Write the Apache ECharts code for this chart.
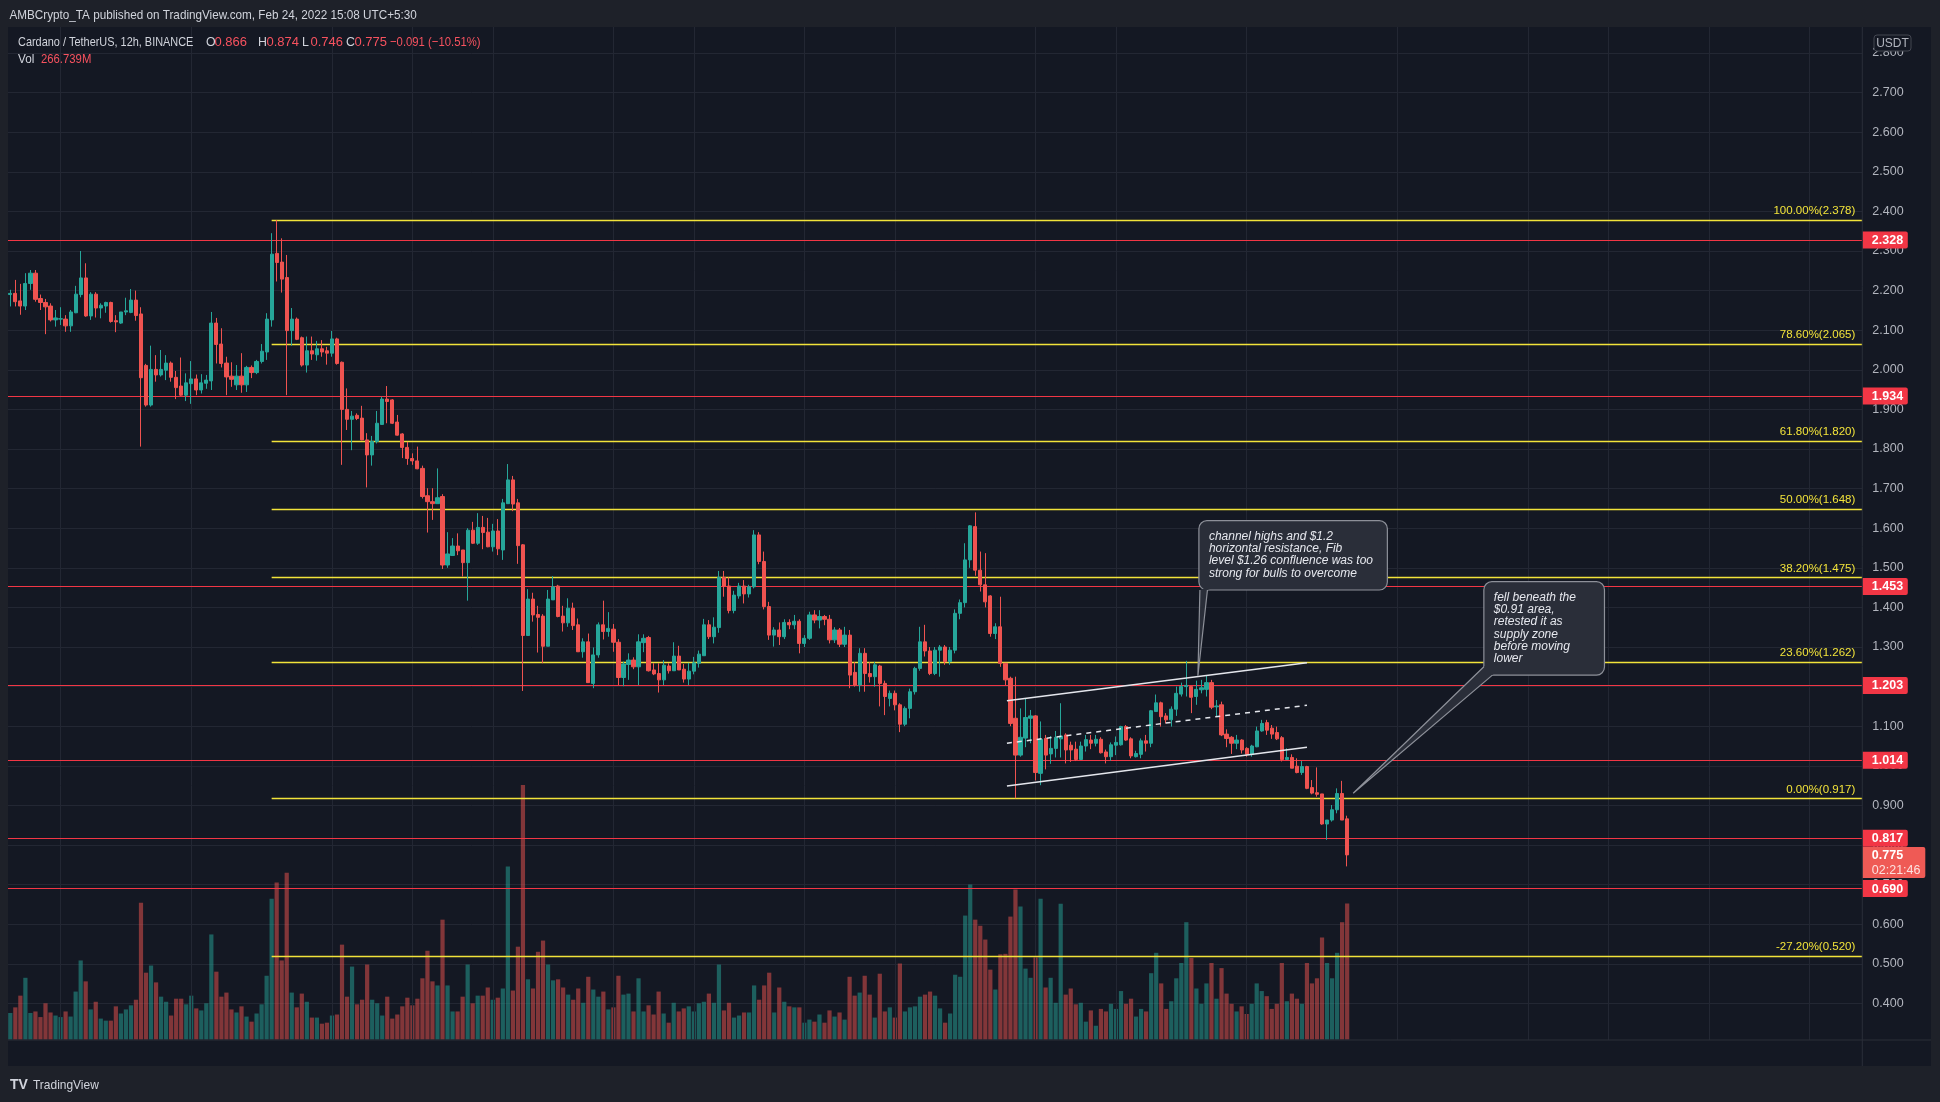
<!DOCTYPE html>
<html>
<head>
<meta charset="utf-8">
<title>Cardano / TetherUS 12h</title>
<script src="https://cdn.jsdelivr.net/npm/echarts@6/dist/echarts.min.js"></script>
<style>
html,body{margin:0;padding:0;background:#1e2129;overflow:hidden;}
#chart{width:1940px;height:1102px;}
</style>
</head>
<body>
<div id="chart"></div>
<script>
// ---------------- DATA ----------------
const startUTC = Date.UTC(2021, 9, 14, 0, 0);   // first 12h candle: 14 Oct 2021
const slotCount = 369;                          // 12h slots shown on the time scale (to mid April)
const categories = [];
for (let k = 0; k < slotCount; k++) {
  const d = new Date(startUTC + k * 43200000);
  categories.push(d.toISOString().slice(0, 16).replace('T', ' '));
}

const tickDates  = ['2021-10-19','2021-11-01','2021-11-15','2021-11-23','2021-12-01','2021-12-13','2021-12-21','2022-01-01','2022-01-10','2022-01-24','2022-02-01','2022-02-14','2022-03-01','2022-03-14','2022-03-22','2022-04-01','2022-04-11'];
const tickLabels = ['19','Nov','15','23','Dec','13','21','2022','10','24','Feb','14','Mar','14','22','Apr','11'];

const opens = [
2.190,2.193,2.174,2.161,2.218,2.244,2.180,2.170,2.161,2.126,
2.128,2.128,2.111,2.144,2.190,2.232,2.136,2.191,2.156,2.161,
2.170,2.124,2.118,2.146,2.145,2.176,2.141,2.011,1.911,2.001,
1.987,1.999,2.017,1.981,1.959,1.936,1.965,1.977,1.949,1.966,
1.972,2.118,2.065,2.017,1.984,1.962,1.984,1.962,2.006,1.993,
2.021,2.045,2.126,2.294,2.272,2.233,2.099,2.128,2.081,2.012,
2.048,2.038,2.053,2.048,2.042,2.078,2.019,1.900,1.875,1.885,
1.878,1.823,1.785,1.819,1.862,1.926,1.924,1.868,1.838,1.804,
1.776,1.770,1.751,1.682,1.667,1.662,1.680,1.507,1.531,1.555,
1.545,1.513,1.595,1.562,1.602,1.590,1.553,1.593,1.545,1.662,
1.722,1.664,1.558,1.329,1.421,1.382,1.378,1.302,1.419,1.454,
1.378,1.361,1.398,1.356,1.288,1.313,1.208,1.280,1.356,1.339,
1.345,1.312,1.223,1.256,1.267,1.250,1.311,1.324,1.242,1.233,
1.217,1.252,1.240,1.277,1.244,1.219,1.239,1.259,1.278,1.356,
1.326,1.349,1.476,1.454,1.392,1.429,1.454,1.434,1.452,1.583,
1.516,1.402,1.330,1.343,1.326,1.362,1.356,1.365,1.309,1.322,
1.381,1.368,1.377,1.370,1.318,1.343,1.307,1.330,1.236,1.204,
1.284,1.233,1.225,1.252,1.208,1.170,1.183,1.154,1.105,1.145,
1.187,1.246,1.313,1.290,1.233,1.292,1.300,1.263,1.292,1.385,
1.412,1.520,1.604,1.494,1.457,1.429,1.334,1.351,1.259,1.221,
1.120,1.027,1.070,1.120,1.126,0.981,1.069,1.030,1.044,1.068,
1.078,1.052,1.042,1.016,1.050,1.065,1.057,1.067,1.035,1.023,
1.052,1.053,1.099,1.068,1.023,1.029,1.063,1.057,1.137,1.159,
1.126,1.116,1.143,1.181,1.200,1.200,1.175,1.192,1.193,1.210,
1.149,1.154,1.080,1.072,1.057,1.065,1.044,1.029,1.048,1.088,
1.109,1.095,1.084,1.071,1.016,1.021,0.999,0.983,0.998,0.945,
0.932,0.929,0.853,0.863,0.889,0.930,0.866];

const highs = [
2.202,2.227,2.217,2.244,2.252,2.252,2.190,2.179,2.168,2.151,
2.158,2.138,2.151,2.212,2.300,2.269,2.196,2.196,2.168,2.172,
2.172,2.138,2.146,2.182,2.204,2.200,2.158,2.015,2.061,2.037,
2.050,2.037,2.021,1.997,2.031,1.991,2.022,1.988,1.989,1.987,
2.146,2.131,2.105,2.033,2.019,2.012,2.042,2.010,2.011,2.025,
2.065,2.143,2.345,2.378,2.332,2.290,2.156,2.132,2.084,2.084,
2.084,2.073,2.075,2.058,2.098,2.081,2.021,1.953,1.896,1.890,
1.909,1.840,1.833,1.896,1.932,1.959,1.926,1.886,1.840,1.818,
1.789,1.806,1.758,1.701,1.701,1.751,1.686,1.590,1.575,1.587,
1.545,1.600,1.616,1.638,1.631,1.626,1.611,1.623,1.674,1.762,
1.732,1.674,1.560,1.446,1.437,1.404,1.383,1.444,1.479,1.457,
1.404,1.423,1.412,1.372,1.322,1.334,1.299,1.362,1.417,1.388,
1.358,1.320,1.263,1.284,1.274,1.332,1.332,1.328,1.259,1.259,
1.267,1.259,1.312,1.303,1.257,1.260,1.275,1.291,1.371,1.368,
1.375,1.492,1.492,1.476,1.442,1.462,1.469,1.457,1.595,1.590,
1.541,1.414,1.350,1.362,1.370,1.370,1.381,1.370,1.330,1.389,
1.393,1.393,1.381,1.381,1.350,1.348,1.351,1.343,1.262,1.297,
1.297,1.262,1.262,1.255,1.215,1.190,1.190,1.158,1.150,1.195,
1.250,1.351,1.356,1.300,1.300,1.305,1.305,1.300,1.395,1.420,
1.562,1.608,1.640,1.541,1.537,1.431,1.360,1.427,1.259,1.225,
1.225,1.145,1.170,1.141,1.128,1.112,1.078,1.075,1.088,1.158,
1.082,1.061,1.061,1.061,1.078,1.078,1.078,1.072,1.041,1.059,
1.074,1.101,1.103,1.072,1.038,1.069,1.078,1.141,1.180,1.162,
1.133,1.150,1.200,1.210,1.265,1.200,1.215,1.217,1.229,1.217,
1.166,1.162,1.092,1.075,1.078,1.067,1.047,1.053,1.099,1.116,
1.116,1.103,1.099,1.075,1.044,1.029,1.019,1.012,1.000,0.964,
0.996,0.929,0.863,0.901,0.943,0.962,0.874];

const lows = [
2.160,2.160,2.139,2.151,2.202,2.172,2.151,2.090,2.122,2.109,
2.113,2.096,2.096,2.143,2.183,2.134,2.126,2.132,2.130,2.144,
2.119,2.095,2.116,2.138,2.143,2.124,1.806,1.907,1.907,1.970,
1.983,1.974,1.970,1.926,1.934,1.921,1.914,1.936,1.940,1.952,
1.949,2.016,2.006,1.936,1.957,1.949,1.942,1.944,1.979,1.989,
2.016,2.025,2.109,2.223,2.195,1.936,2.061,2.075,2.008,1.993,
2.025,2.023,2.033,2.013,2.033,2.013,1.760,1.848,1.797,1.873,
1.822,1.703,1.758,1.814,1.861,1.865,1.863,1.834,1.777,1.760,
1.760,1.749,1.675,1.589,1.621,1.662,1.497,1.500,1.531,1.532,
1.478,1.417,1.560,1.558,1.547,1.552,1.541,1.532,1.520,1.662,
1.643,1.510,1.189,1.329,1.364,1.286,1.259,1.302,1.419,1.375,
1.339,1.351,1.343,1.288,1.273,1.210,1.196,1.273,1.319,1.326,
1.288,1.204,1.201,1.217,1.244,1.204,1.287,1.238,1.229,1.185,
1.204,1.233,1.240,1.242,1.210,1.204,1.231,1.248,1.278,1.320,
1.309,1.336,1.427,1.385,1.385,1.422,1.410,1.425,1.448,1.509,
1.395,1.318,1.301,1.305,1.320,1.345,1.345,1.284,1.300,1.318,
1.360,1.347,1.355,1.309,1.310,1.300,1.300,1.196,1.200,1.187,
1.187,1.210,1.200,1.150,1.128,1.150,1.140,1.085,1.100,1.120,
1.180,1.240,1.276,1.229,1.229,1.225,1.255,1.255,1.284,1.370,
1.400,1.500,1.480,1.440,1.400,1.326,1.320,1.250,1.204,1.100,
0.918,1.023,1.047,1.057,0.963,0.951,0.991,1.005,1.021,1.021,
1.006,1.010,1.012,1.015,1.036,1.042,1.049,1.031,1.006,1.013,
1.027,1.051,1.063,1.019,1.021,1.019,1.036,1.047,1.137,1.099,
1.107,1.099,1.126,1.175,1.175,1.133,1.154,1.183,1.175,1.143,
1.126,1.075,1.047,1.030,1.042,1.031,1.023,1.023,1.047,1.086,
1.078,1.068,1.065,1.011,1.015,0.994,0.981,0.977,0.941,0.928,
0.922,0.851,0.813,0.859,0.880,0.863,0.746];

const closes = [
2.193,2.172,2.161,2.218,2.244,2.178,2.170,2.159,2.126,2.131,
2.129,2.111,2.146,2.191,2.232,2.136,2.191,2.156,2.163,2.170,
2.122,2.121,2.146,2.149,2.176,2.137,1.980,1.911,2.001,1.987,
2.001,2.017,1.981,1.955,1.936,1.967,1.977,1.949,1.967,1.974,
2.118,2.064,2.016,1.982,1.976,1.984,1.962,2.006,1.993,2.021,
2.047,2.128,2.292,2.271,2.229,2.099,2.128,2.077,2.012,2.048,
2.040,2.053,2.045,2.042,2.078,2.016,1.900,1.875,1.883,1.877,
1.823,1.785,1.819,1.865,1.926,1.920,1.865,1.835,1.804,1.776,
1.770,1.750,1.680,1.667,1.662,1.677,1.507,1.535,1.555,1.543,
1.513,1.595,1.562,1.602,1.589,1.553,1.593,1.548,1.664,1.722,
1.661,1.556,1.329,1.421,1.381,1.375,1.302,1.421,1.452,1.377,
1.361,1.398,1.354,1.288,1.313,1.210,1.280,1.356,1.339,1.347,
1.312,1.223,1.257,1.267,1.250,1.313,1.322,1.240,1.232,1.217,
1.254,1.240,1.277,1.242,1.219,1.239,1.260,1.282,1.356,1.326,
1.350,1.476,1.454,1.392,1.431,1.454,1.434,1.452,1.583,1.516,
1.402,1.330,1.343,1.326,1.362,1.356,1.365,1.309,1.322,1.381,
1.368,1.377,1.370,1.318,1.343,1.307,1.330,1.229,1.204,1.284,
1.233,1.225,1.255,1.208,1.175,1.183,1.154,1.105,1.145,1.187,
1.246,1.313,1.290,1.233,1.292,1.300,1.263,1.292,1.385,1.412,
1.520,1.606,1.494,1.457,1.414,1.334,1.351,1.259,1.217,1.107,
1.027,1.072,1.122,1.126,0.983,1.067,1.027,1.044,1.072,1.075,
1.040,1.040,1.016,1.050,1.066,1.057,1.067,1.033,1.023,1.053,
1.059,1.099,1.065,1.025,1.031,1.063,1.057,1.139,1.159,1.124,
1.116,1.143,1.183,1.200,1.203,1.173,1.193,1.197,1.210,1.148,
1.151,1.078,1.069,1.057,1.065,1.040,1.029,1.050,1.088,1.107,
1.090,1.080,1.068,1.016,1.021,0.994,0.983,0.998,0.943,0.931,
0.928,0.853,0.863,0.889,0.930,0.863,0.775];

// volume, millions
const volumes = [
52,63,86,121,52,55,44,71,53,47,
44,55,45,94,155,114,59,74,41,37,
37,65,51,59,67,78,268,131,145,112,
84,74,47,80,80,69,86,61,57,71,
206,133,84,92,59,53,65,45,35,51,
69,125,276,308,155,327,92,63,90,74,
43,43,31,33,47,49,186,84,143,69,
78,147,78,71,47,84,41,49,65,82,
67,80,120,174,114,106,235,106,55,55,
84,147,71,86,86,102,78,82,100,339,
96,182,499,118,100,172,194,147,116,118,
102,88,78,100,72,123,98,84,94,59,
63,125,88,90,55,120,55,67,49,94,
51,33,72,55,61,65,55,71,74,90,
72,147,57,72,43,47,53,53,106,78,
106,131,53,102,74,65,63,63,33,39,
35,49,33,57,45,53,39,123,86,92,
125,88,43,129,55,63,43,149,55,63,
65,84,88,94,86,61,33,51,127,123,
243,304,235,223,196,137,98,167,168,241,
294,261,139,121,161,276,102,121,72,266,
88,100,69,72,35,57,27,60,55,70,
60,95,70,80,45,60,55,130,170,110,
60,75,120,150,230,160,100,70,110,150,
80,140,90,70,55,65,50,70,110,95,
85,60,70,150,75,90,80,70,150,110,
120,200,150,120,170,230,266.739];

const redLevels  = [2.328, 1.934, 1.453, 1.203, 1.014, 0.817, 0.690];
const fibRatios  = ['100.00%','78.60%','61.80%','50.00%','38.20%','23.60%','0.00%','-27.20%'];
const fibPrices  = [2.378, 2.065, 1.820, 1.648, 1.475, 1.262, 0.917, 0.520];
const fibStartIndex = 52;
const channelUpper = [[198.3, 1.164], [258.0, 1.260]];
const channelMid   = [[198.3, 1.057], [258.0, 1.153]];
const channelLower = [[198.3, 0.949], [258.0, 1.047]];
const countdown = '02:21:46';

const note1 = {
  lines: ['channel highs and $1.2', 'horizontal resistance, Fib', 'level $1.26 confluence was too', 'strong for bulls to overcome'],
  box: [[236.5, 1.619], [274.0, 1.444]], tip: [236.3, 1.2275], baseA: [236.7, 1.444], baseB: [238.2, 1.444]
};
const note2 = {
  lines: ['fell beneath the', '$0.91 area,', 'retested it as', 'supply zone', 'before moving', 'lower'],
  box: [[293.2, 1.465], [317.2, 1.229]], tip: [267.2, 0.9306], baseA: [293.2, 1.250], baseB: [294.9, 1.229]
};

// ---------------- STYLE ----------------
const FONT = "'Liberation Sans', Arial, sans-serif";
const UP = '#26a69a', DOWN = '#ef5350', RED = '#f23645', YELLOW = '#f2e33a';
const GRIDC = '#232733', AXISTXT = '#b2b5be', PANE = '#141823', FRAME = '#1e2129';
const GRID_L = 7.8, GRID_W = 1854.5;

const tickIndex = tickDates.map(d => categories.indexOf(d + ' 00:00'));
const labelByIndex = {};
tickIndex.forEach((ix, k) => { labelByIndex[ix] = tickLabels[k]; });

const candles = opens.map((o, i) => [o, closes[i], lows[i], highs[i]]);
const last = closes.length - 1;

const levelLines = [];
redLevels.forEach(v => levelLines.push({ yAxis: v, lineStyle: { color: RED, width: 1.2, type: 'solid' }, label: { show: false } }));
fibPrices.forEach((v, k) => levelLines.push([
  { coord: [fibStartIndex, v], lineStyle: { color: YELLOW, width: 1.3, type: 'solid' },
    label: { show: true, position: 'insideEndTop', formatter: fibRatios[k] + '(' + v.toFixed(3) + ')',
             color: YELLOW, fontSize: 11.5, fontFamily: FONT, distance: [7, 3] } },
  { coord: [slotCount - 0.5, v] }
]));

function chanSeries(pts, dashed) {
  return { type: 'line', xAxisIndex: 1, yAxisIndex: 0, data: pts, symbol: 'none', silent: true, z: 7,
    lineStyle: { color: '#e4e6ec', width: 1.5, type: dashed ? [5, 5] : 'solid' } };
}

const option = {
  animation: false,
  backgroundColor: PANE,
  grid: [
    { left: GRID_L, width: GRID_W, top: 13.4, height: 1029.6, containLabel: false, outerBoundsMode: 'none' },
    { left: GRID_L, width: GRID_W, top: 733.5, height: 306, containLabel: false, outerBoundsMode: 'none' }
  ],
  xAxis: [
    { type: 'category', gridIndex: 0, data: categories, boundaryGap: true,
      axisLine: { show: false }, axisTick: { show: false }, splitLine: { show: false },
      axisLabel: { interval: (i) => labelByIndex[i] !== undefined, formatter: (v, i) => labelByIndex[i] || '',
                   color: AXISTXT, fontSize: 12.5, fontFamily: FONT, margin: 4, hideOverlap: false } },
    { type: 'value', gridIndex: 0, min: -0.5, max: slotCount - 0.5, show: false },
    { type: 'category', gridIndex: 1, data: categories, show: false }
  ],
  yAxis: [
    { type: 'value', gridIndex: 0, position: 'right', min: 0.3, max: 2.9, interval: 0.1,
      axisLine: { show: false }, axisTick: { show: false },
      axisLabel: { formatter: v => v.toFixed(3), color: AXISTXT, fontSize: 12.5, fontFamily: FONT, margin: 10,
                   showMinLabel: false, showMaxLabel: false, hideOverlap: false },
      splitLine: { show: true, showMinLine: false, showMaxLine: false, lineStyle: { color: GRIDC, width: 1 } } },
    { type: 'value', gridIndex: 1, min: 0, max: 600, show: false }
  ],
  series: [
    { type: 'line', name: 'vgrid', xAxisIndex: 1, yAxisIndex: 0, data: [], z: 1, silent: true,
      markLine: { silent: true, symbol: ['none', 'none'], label: { show: false },
                  lineStyle: { color: GRIDC, width: 1, type: 'solid' },
                  data: tickIndex.map(ix => ({ xAxis: ix })) } },
    { type: 'bar', name: 'Vol', xAxisIndex: 2, yAxisIndex: 1, data: volumes, barCategoryGap: '16%', z: 3, silent: true,
      itemStyle: { color: p => closes[p.dataIndex] >= opens[p.dataIndex] ? 'rgba(38,166,154,0.5)' : 'rgba(239,83,80,0.5)' } },
    { type: 'candlestick', name: 'ADAUSDT', xAxisIndex: 0, yAxisIndex: 0, data: candles, barWidth: 3.7, z: 5, silent: true,
      itemStyle: { color: UP, color0: DOWN, borderColor: UP, borderColor0: DOWN, borderWidth: 1 } },
    { type: 'line', name: 'levels', xAxisIndex: 1, yAxisIndex: 0, data: [], z: 6, silent: true,
      markLine: { silent: true, symbol: ['none', 'none'], precision: 3, data: levelLines } },
    chanSeries(channelUpper, false),
    chanSeries(channelMid, true),
    chanSeries(channelLower, false)
  ]
};

const chart = echarts.init(document.getElementById('chart'), null, { renderer: 'canvas', width: 1940, height: 1102 });
chart.setOption(option);

const X = i => chart.convertToPixel({ xAxisIndex: 1 }, i);
const Y = p => chart.convertToPixel({ yAxisIndex: 0 }, p);
const axisX = X(slotCount - 0.5);

// text helper; sx = horizontal squeeze to match the narrower TradingView UI font
function txt(x, y, text, color, size, sx, z) {
  return { type: 'text', x: x, y: y, z: z || 102, scaleX: sx || 1,
    style: { text: text, fill: color, font: size + 'px ' + FONT, align: 'left', verticalAlign: 'middle' } };
}

function callout(note) {
  const x0 = X(note.box[0][0]), y0 = Y(note.box[0][1]), x1 = X(note.box[1][0]), y1 = Y(note.box[1][1]);
  const tip = [X(note.tip[0]), Y(note.tip[1])];
  const a = [X(note.baseA[0]), Y(note.baseA[1])], b = [X(note.baseB[0]), Y(note.baseB[1])];
  const cx = (x0 + x1) / 2, cy = (y0 + y1) / 2;
  const inward = p => { const dx = cx - p[0], dy = cy - p[1], L = Math.hypot(dx, dy); return [p[0] + 4 * dx / L, p[1] + 4 * dy / L]; };
  return [
    { type: 'rect', z: 60, shape: { x: x0, y: y0, width: x1 - x0, height: y1 - y0, r: 8 },
      style: { fill: '#2a2e39', stroke: '#8d9099', lineWidth: 1.2 } },
    { type: 'polygon', z: 61, shape: { points: [inward(a), a, tip, b, inward(b)] }, style: { fill: '#2a2e39' } },
    { type: 'polyline', z: 62, shape: { points: [a, tip, b] }, style: { stroke: '#8d9099', lineWidth: 1.2, fill: null } },
    { type: 'text', z: 63, x: x0 + 10, y: y0 + 9.5,
      style: { text: note.lines.join('\n'), fill: '#e6e8ee', font: 'italic 12px ' + FONT, lineHeight: 12.3, align: 'left', verticalAlign: 'top' } }
  ];
}

const g = [];
// outer frame
g.push({ type: 'rect', z: 100, shape: { x: 0, y: 0, width: 1940, height: 27 }, style: { fill: FRAME } });
g.push({ type: 'rect', z: 100, shape: { x: 0, y: 1066, width: 1940, height: 36 }, style: { fill: FRAME } });
g.push({ type: 'rect', z: 100, shape: { x: 0, y: 0, width: 8, height: 1102 }, style: { fill: FRAME } });
g.push({ type: 'rect', z: 100, shape: { x: 1931, y: 0, width: 9, height: 1102 }, style: { fill: FRAME } });
// separators
g.push({ type: 'line', z: 101, shape: { x1: axisX, y1: 27, x2: axisX, y2: 1066 }, style: { stroke: '#2a2e39', lineWidth: 1 } });
g.push({ type: 'rect', z: 99, shape: { x: 8, y: 1040, width: 1923, height: 26 }, style: { fill: PANE } });
g.push({ type: 'line', z: 101, shape: { x1: 8, y1: 1040, x2: 1931, y2: 1040 }, style: { stroke: '#2a2e39', lineWidth: 1 } });
// header
g.push(txt(9.5, 15, 'AMBCrypto_TA published on TradingView.com, Feb 24, 2022 15:08 UTC+5:30', '#d1d4dc', 13, 0.9));
// legend
const fmt = v => v.toFixed(3);
const chg = closes[last] - opens[last];
const pct = chg / opens[last] * 100;
const LEGY = 42.7;
g.push(txt(18, LEGY, 'Cardano / TetherUS, 12h, BINANCE', '#d1d4dc', 13, 0.84, 50));
[['O', opens[last], 206], ['H', highs[last], 258], ['L', lows[last], 302], ['C', closes[last], 346]].forEach(r => {
  g.push(txt(r[2], LEGY, r[0], '#d1d4dc', 13, 0.95, 50));
  g.push(txt(r[2] + 8.5, LEGY, fmt(r[1]), '#f7525f', 13, 1, 50));
});
g.push(txt(390, LEGY, '\u2212' + Math.abs(chg).toFixed(3) + ' (\u2212' + Math.abs(pct).toFixed(2) + '%)', '#f7525f', 13, 0.87, 50));
g.push(txt(18, 59.3, 'Vol', '#d1d4dc', 13, 0.9, 50));
g.push(txt(41, 59.3, volumes[last].toFixed(3) + 'M', '#f7525f', 13, 0.87, 50));
// USDT badge
g.push({ type: 'rect', z: 70, shape: { x: 1874, y: 35, width: 37, height: 16, r: 3 }, style: { fill: PANE, stroke: '#434651', lineWidth: 1 } });
g.push({ type: 'text', z: 71, x: 1892.5, y: 43.5, style: { text: 'USDT', fill: AXISTXT, font: '12px ' + FONT, align: 'center', verticalAlign: 'middle' } });
// red level badges
redLevels.forEach(v => {
  const y = Y(v);
  g.push({ type: 'rect', z: 70, shape: { x: axisX, y: y - 8.5, width: 45.5, height: 17, r: [0, 2, 2, 0] }, style: { fill: RED } });
  g.push({ type: 'text', z: 71, x: axisX + 9.5, y: y + 0.5, style: { text: v.toFixed(3), fill: '#ffffff', font: 'bold 12.5px ' + FONT, align: 'left', verticalAlign: 'middle' } });
});
// last price badge with countdown
{
  const y = Y(closes[last]);
  g.push({ type: 'rect', z: 72, shape: { x: axisX, y: y - 8, width: 63, height: 31, r: [0, 2, 2, 0] }, style: { fill: '#ef5a55' } });
  g.push({ type: 'text', z: 73, x: axisX + 9.5, y: y + 0.5, style: { text: fmt(closes[last]), fill: '#ffffff', font: 'bold 12.5px ' + FONT, align: 'left', verticalAlign: 'middle' } });
  g.push({ type: 'text', z: 73, x: axisX + 9.5, y: y + 15.5, style: { text: countdown, fill: '#fde2e0', font: '12.5px ' + FONT, align: 'left', verticalAlign: 'middle' } });
}
// callouts
callout(note1).forEach(e => g.push(e));
callout(note2).forEach(e => g.push(e));
// TradingView footer logo
g.push({ type: 'text', z: 103, x: 10, y: 1085, style: { text: 'TV', fill: '#d1d4dc', font: 'bold 14px ' + FONT, align: 'left', verticalAlign: 'middle' } });
g.push(txt(33, 1085, 'TradingView', '#d1d4dc', 13, 0.92, 103));

chart.setOption({ graphic: g });
</script>
</body>
</html>
